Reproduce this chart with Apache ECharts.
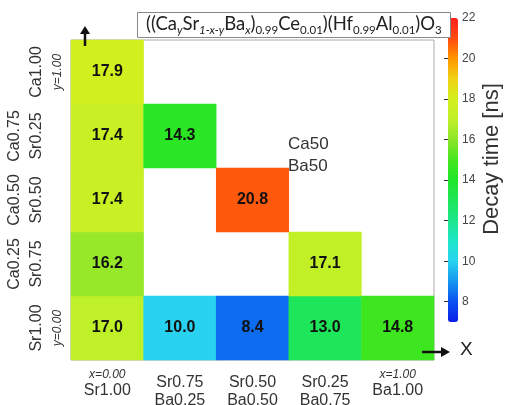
<!DOCTYPE html>
<html><head><meta charset="utf-8">
<script src="https://cdn.jsdelivr.net/npm/echarts@6/dist/echarts.min.js"></script>
<style>html,body{margin:0;padding:0;background:#fff}#c{width:531px;height:405px}</style>
</head><body><div id="c"></div>
<script>
var xCats = ['x=0.00|Sr1.00', 'Sr0.75|Ba0.25', 'Sr0.50|Ba0.50', 'Sr0.25|Ba0.75', 'x=1.00|Ba1.00'];
var yCats = ['Sr1.00|y=0.00', 'Ca0.25|Sr0.75', 'Ca0.50|Sr0.50', 'Ca0.75|Sr0.25', 'Ca1.00|y=1.00'];
var cellX = [0, 1, 2, 3, 4, 0, 3, 0, 2, 0, 1, 0];
var cellY = [0, 0, 0, 0, 0, 1, 1, 2, 2, 3, 3, 4];
var cellV = [17.0, 10.0, 8.4, 13.0, 14.8, 16.2, 17.1, 17.4, 20.8, 17.4, 14.3, 17.9];
var cbarTicks = [8, 10, 12, 14, 16, 18, 20, 22];
var cbarMin = 7, cbarMax = 22;
var cmap = ['#0a1ee6','#0a50f0','#1496f0','#28d2f0','#1ee6c8','#1ee68c','#1ee65a','#1ee628',
            '#46e61e','#8ce628','#c0f028','#d4f01e','#f0d214','#ff9600','#ff4a10','#ff1e1e'];

var data = cellV.map(function (v, i) { return [cellX[i], cellY[i], v]; });
var chart = echarts.init(document.getElementById('c'), null, {renderer: 'canvas'});
var F = 'Liberation Sans, Arial, sans-serif';

function xFmt(v) {
  var p = v.split('|');
  if (p[0].indexOf('=') >= 0) return '{s|' + p[0] + '}\n{a|' + p[1] + '}';
  return '{p| }\n{a|' + p[0] + '}\n{a|' + p[1] + '}';
}
function yFmt(v) {
  var p = v.split('|');
  if (p[1].indexOf('=') >= 0) return '{a| }\n{b|' + p[0] + '}\n{s|' + p[1] + '}';
  return '{a|' + p[0] + '}\n{a|' + p[1] + '}\n{s| }';
}

var sub = {fontSize: 11.5, fontFamily: 'Lato, sans-serif', fontWeight: 'normal', color: '#222', verticalAlign: 'bottom', lineHeight: 14};
var subI = Object.assign({}, sub, {fontStyle: 'italic'});
var mainT = {fontSize: 18.5, fontFamily: 'Lato, sans-serif', fontWeight: 'normal', color: '#222', lineHeight: 24};

var option = {
  animation: false,
  backgroundColor: '#fff',
  title: {
    text: '{m|((Ca}{si|y}{m|Sr}{si|1-x-y}{m|Ba}{si|x}{m|)}{s|0.99}{m|Ce}{s|0.01}{m|)(Hf}{s|0.99}{m|Al}{s|0.01}{m|)O}{s|3}',
    left: 137, top: 10,
    padding: [2, 9, 2, 9],
    borderColor: '#888', borderWidth: 1, backgroundColor: '#fff',
    textStyle: {fontWeight: 'normal', rich: {m: mainT, s: sub, si: subI}}
  },
  grid: [
    {left: 71, right: 97, top: 40, bottom: 45, show: true, borderColor: '#aaa', borderWidth: 1,
     backgroundColor: 'transparent', outerBoundsMode: 'none', containLabel: false},
    {left: 448, top: 18, width: 10, height: 304, show: false, outerBoundsMode: 'none', containLabel: false}
  ],
  xAxis: [
    {type: 'category', data: xCats, gridIndex: 0,
     axisLine: {show: false}, axisTick: {show: false}, splitLine: {show: false},
     axisLabel: {margin: 7, formatter: xFmt, color: '#333', interval: 0,
       rich: {a: {fontSize: 16, fontFamily: F, color: '#333', lineHeight: 18},
              s: {fontSize: 12, fontFamily: F, fontStyle: 'italic', color: '#333', lineHeight: 15},
              p: {fontSize: 2, lineHeight: 7}}}},
    {type: 'value', gridIndex: 1, show: false, min: 0, max: 1}
  ],
  yAxis: [
    {type: 'category', data: yCats, gridIndex: 0,
     axisLine: {show: false}, axisTick: {show: false}, splitLine: {show: false},
     axisLabel: {rotate: 90, margin: 3, formatter: yFmt, interval: 0,
       rich: {a: {fontSize: 16, fontFamily: F, color: '#333', lineHeight: 22},
              b: {fontSize: 16, fontFamily: F, color: '#333', lineHeight: 22},
              s: {fontSize: 12, fontFamily: F, fontStyle: 'italic', color: '#333', lineHeight: 20}}}},
    {type: 'value', gridIndex: 1, position: 'left', min: cbarMin, max: cbarMax,
     axisLine: {show: false}, splitLine: {show: false},
     axisTick: {show: true, length: 4, customValues: cbarTicks, lineStyle: {color: '#333'}},
     axisLabel: {show: false}},
    {type: 'value', gridIndex: 1, position: 'right', min: cbarMin, max: cbarMax,
     axisLine: {show: false}, splitLine: {show: false}, axisTick: {show: false},
     axisLabel: {show: true, margin: 4, customValues: cbarTicks, color: '#444', fontSize: 12, fontFamily: F}}
  ],
  visualMap: {
    type: 'continuous', min: cbarMin, max: cbarMax, calculable: false,
    left: 448, top: 18, itemWidth: 10, itemHeight: 304, padding: 0,
    text: null, showLabel: false, seriesIndex: 0,
    inRange: {color: cmap}
  },
  series: [{
    type: 'heatmap', xAxisIndex: 0, yAxisIndex: 0, data: data,
    label: {show: true, fontSize: 16, fontWeight: 'bold', fontFamily: F, color: '#111',
            formatter: function (p) { return p.value[2].toFixed(1); }},
    itemStyle: {borderWidth: 0}
  }],
  graphic: [
    {type: 'line', shape: {x1: 85, y1: 46, x2: 85, y2: 33}, style: {stroke: '#111', lineWidth: 2.5}, z: 100},
    {type: 'polygon', shape: {points: [[80, 34], [90, 34], [85, 26]]}, style: {fill: '#111'}, z: 100},
    {type: 'line', shape: {x1: 422, y1: 352, x2: 442, y2: 352}, style: {stroke: '#111', lineWidth: 2.5}, z: 100},
    {type: 'polygon', shape: {points: [[441, 347], [441, 357], [450, 352]]}, style: {fill: '#111'}, z: 100},
    {type: 'text', left: 460, top: 340, style: {text: 'X', fontSize: 19, fontFamily: F, fill: '#222'}, z: 100},
    {type: 'text', left: 288, top: 133, style: {text: 'Ca50\nBa50', fontSize: 17, lineHeight: 22, fontFamily: F, fill: '#333'}, z: 100},
    {type: 'text', x: 492, y: 159, rotation: Math.PI / 2,
     style: {text: 'Decay time [ns]', fontSize: 22, fontFamily: F, fill: '#333', align: 'center', verticalAlign: 'middle'}, z: 100}
  ]
};
chart.setOption(option);
</script></body></html>
